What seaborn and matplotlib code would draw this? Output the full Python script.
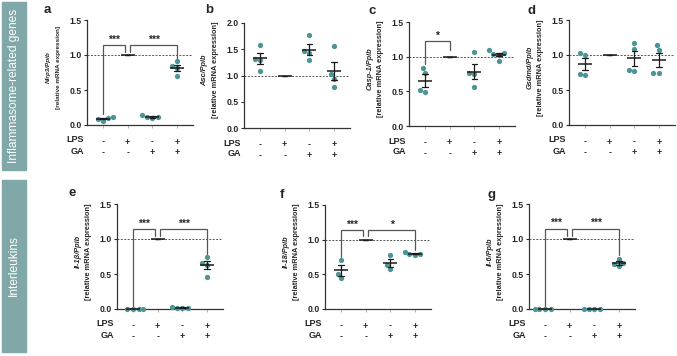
import numpy as np
import pandas as pd
import seaborn as sns
import matplotlib.pyplot as plt
from matplotlib.patches import Rectangle

groups    = ["Ctrl", "LPS", "GA", "LPS+GA"]
lps_signs = ["-", "+", "-", "+"]
ga_signs  = ["-", "-", "+", "+"]

# relative mRNA expression (LPS group = reference, 1.0)
lps_ref = [1.0, 1.0, 1.0, 1.0]

nlrp3_ctrl  = [0.12, 0.09, 0.06, 0.10]
nlrp3_ga    = [0.14, 0.11, 0.10, 0.11]
nlrp3_lpsga = [0.91, 0.81, 0.84, 0.70]

asc_ctrl  = [1.59, 1.32, 1.30, 1.09]
asc_ga    = [1.78, 1.46, 1.43, 1.30]
asc_lpsga = [1.57, 1.02, 0.94, 0.78]

casp1_ctrl  = [0.84, 0.77, 0.52, 0.49]
casp1_ga    = [1.07, 0.75, 0.76, 0.56]
casp1_lpsga = [1.09, 1.05, 1.04, 1.03, 0.94]

gsdmd_ctrl  = [1.00, 1.03, 0.72, 0.73]
gsdmd_ga    = [1.17, 1.09, 0.77, 0.78]
gsdmd_lpsga = [1.14, 1.07, 0.75, 0.75]

il1b_ctrl  = [0.0, 0.0, 0.0, 0.0]
il1b_ga    = [0.01, 0.03, 0.02, 0.01]
il1b_lpsga = [0.75, 0.66, 0.63, 0.46]

il18_ctrl  = [0.71, 0.51, 0.45]
il18_ga    = [0.78, 0.64, 0.58]
il18_lpsga = [0.82, 0.78, 0.80, 0.79]

il6_ctrl  = [0.0, 0.0, 0.0, 0.0]
il6_ga    = [0.0, 0.0, 0.0, 0.0]
il6_lpsga = [0.72, 0.66, 0.64, 0.61]


def make_df(ctrl, ga, lpsga):
    rows = []
    for g, vals in zip(groups, [ctrl, lps_ref, ga, lpsga]):
        for v in vals:
            rows.append((g, v))
    return pd.DataFrame(rows, columns=["group", "value"])


sns.set_style("ticks")
plt.rcParams['font.family'] = ['Liberation Sans', 'DejaVu Sans']

W, H = 677, 356
fig = plt.figure(figsize=(W / 100, H / 100), dpi=100)

dot_color = "#4d9494"
bar_color = "#80a8a8"

# side bars
for (x0, y0, x1, y1, label) in [(2, 2, 26, 170, "Inflammasome-related genes"),
                                (2, 180, 26, 352, "Interleukins")]:
    fig.patches.append(Rectangle((x0 / W, 1 - y1 / H), (x1 - x0) / W, (y1 - y0) / H,
                                 transform=fig.transFigure, color=bar_color, zorder=0))
    fig.text((x0 + x1) / 2 / W, 1 - (y0 + y1) / 2 / H, label, rotation=90,
             color="white", fontsize=8.6, ha="center", va="center")

# letter, gene, data, ymax, brackets, (left, top, bottom px), letter pos, label size
panels = [
    ("a", "Nlrp3/Ppib", make_df(nlrp3_ctrl, nlrp3_ga, nlrp3_lpsga), 1.5,
     [(0, 0.9, 1.14, 0.16, 1.05, "***"), (1.1, 3, 1.14, 1.05, 0.94, "***")],
     (87, 20, 125), (47, 10), 4.6),
    ("b", "Asc/Ppib", make_df(asc_ctrl, asc_ga, asc_lpsga), 2.0, [],
     (244, 23, 128), (209, 10), 5.3),
    ("c", "Casp-1/Ppib", make_df(casp1_ctrl, casp1_ga, casp1_lpsga), 1.5,
     [(0, 1, 1.22, 0.9, 1.1, "*")],
     (409, 22, 126), (372, 11), 5.3),
    ("d", "Gsdmd/Ppib", make_df(gsdmd_ctrl, gsdmd_ga, gsdmd_lpsga), 1.5, [],
     (569, 20, 125), (531, 11), 5.3),
    ("e", "Il-1β/Ppib", make_df(il1b_ctrl, il1b_ga, il1b_lpsga), 1.5,
     [(0, 0.9, 1.14, 0.0, 1.05, "***"), (1.1, 3, 1.14, 1.05, 0.79, "***")],
     (117, 204, 309), (72, 193), 5.3),
    ("f", "Il-18/Ppib", make_df(il18_ctrl, il18_ga, il18_lpsga), 1.5,
     [(0, 0.9, 1.14, 0.75, 1.05, "***"), (1.1, 3, 1.14, 1.05, 0.85, "*")],
     (325, 205, 309), (282, 195), 5.3),
    ("g", "Il-6/Ppib", make_df(il6_ctrl, il6_ga, il6_lpsga), 1.5,
     [(0, 0.9, 1.15, 0.0, 1.05, "***"), (1.1, 3, 1.15, 1.05, 0.77, "***")],
     (529, 204, 309), (492, 195), 5.3),
]

AX_W = 106
for letter, gene, df, ymax, brackets, (L, T, B), (lx, ly), lsize in panels:
    ax = fig.add_axes([L / W, 1 - B / H, AX_W / W, (B - T) / H])

    sns.swarmplot(data=df[df.group != "LPS"], x="group", y="value", order=groups,
                  color=dot_color, size=3.8, linewidth=0, ax=ax, zorder=3)
    for coll in ax.collections:
        coll.set_clip_on(False)
    sns.pointplot(data=df, x="group", y="value", order=groups, errorbar="se",
                  color="#1a1a1a", linestyle="none", marker="_", markersize=10,
                  markeredgewidth=1.1, capsize=0.22, err_kws={"linewidth": 0.9},
                  ax=ax, zorder=4)

    ax.axhline(1.0, color="#555555", lw=0.7, ls=(0, (2, 1.5)), zorder=1)

    for x1, x2, ytop, yl, yr, star in brackets:
        ax.plot([x1, x1, x2, x2], [yl, ytop, ytop, yr], color="#555555", lw=0.9,
                zorder=2, solid_joinstyle="miter")
        ax.annotate(star, ((x1 + x2) / 2, ytop), xytext=(0, 0.3),
                    textcoords="offset points", ha="center", va="bottom",
                    fontsize=7.5, fontweight="bold")

    ax.set_xlim(-0.65, 3.65)
    ax.set_ylim(0, ymax)
    ax.set_yticks(np.arange(0, ymax + 0.01, 0.5))
    ax.set_yticklabels([f"{t:.1f}" for t in np.arange(0, ymax + 0.01, 0.5)],
                       fontsize=6.2, fontweight="bold")
    ax.set_xticks(range(len(groups)))
    ax.set_xticklabels([f"{l}\n{g}" for l, g in zip(lps_signs, ga_signs)],
                       fontsize=6.5, fontweight="bold", linespacing=1.25)
    ax.tick_params(axis="x", length=2.5, width=0.6, color="#aaaaaa", pad=6.5)
    ax.tick_params(axis="y", length=2.5, width=0.8, pad=1.5)
    ax.set_xlabel("")
    ax.set_ylabel("")
    sns.despine(ax=ax)
    for s in ["left", "bottom"]:
        ax.spines[s].set_linewidth(0.9)
        ax.spines[s].set_color("#333333")

    # two-line y label
    ax.annotate(gene, (0, 0.55), xycoords="axes fraction", xytext=(-39 * 0.72, 0),
                textcoords="offset points", rotation=90, ha="center", va="center",
                fontsize=lsize, fontweight="bold", fontstyle="italic")
    ax.annotate("[relative mRNA expression]", (0, 0.55), xycoords="axes fraction",
                xytext=(-28.5 * 0.72, 0), textcoords="offset points", rotation=90,
                ha="center", va="center", fontsize=lsize, fontweight="bold")

    # row labels
    for name, dy in [("LPS", 15), ("GA", 26)]:
        ax.annotate(name, (0, 0), xycoords="axes fraction", xytext=(-3 * 0.72, -dy * 0.72),
                    textcoords="offset points", ha="right", va="center",
                    fontsize=6.5, fontweight="bold")

    fig.text(lx / W, 1 - ly / H, letter, fontsize=9.5, fontweight="bold",
             ha="center", va="center")

fig.savefig("out.png", dpi=100)
